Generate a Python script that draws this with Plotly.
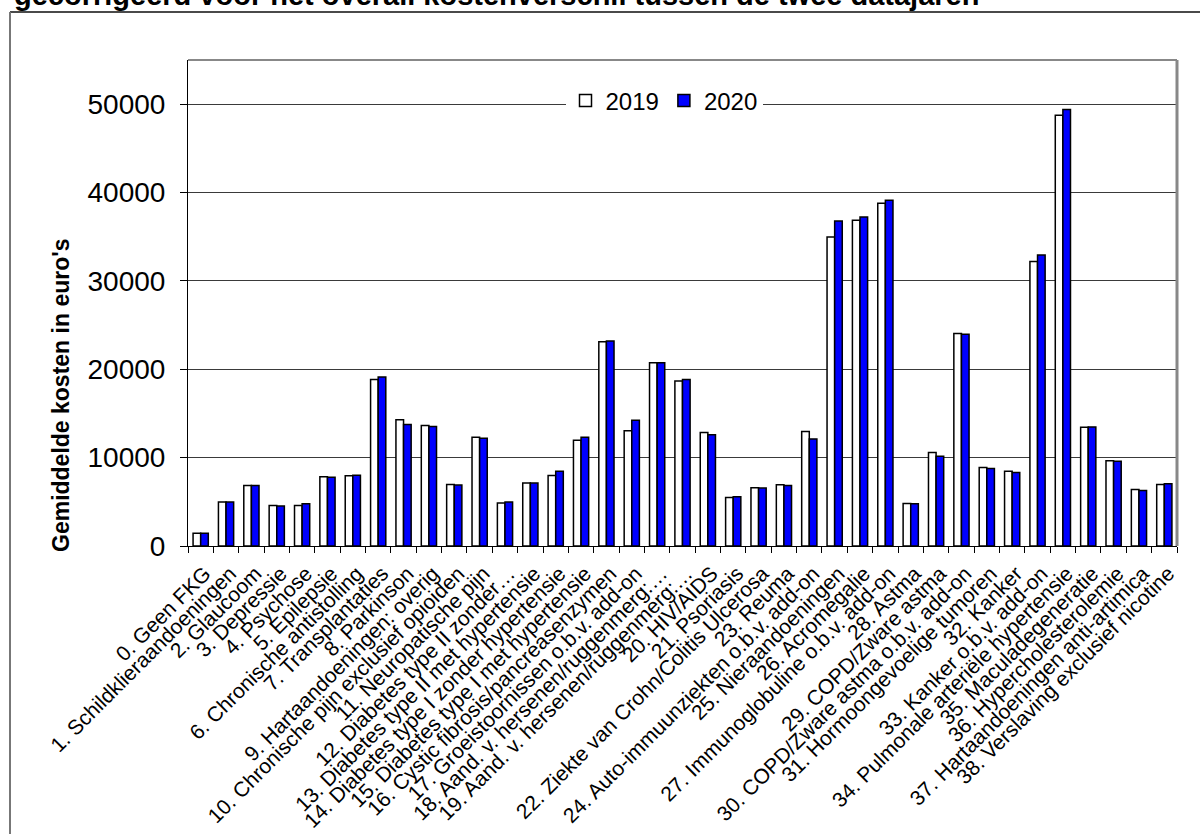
import plotly.graph_objects as go

categories = [
    "0. Geen FKG",
    "1. Schildklieraandoeningen",
    "2. Glaucoom",
    "3. Depressie",
    "4. Psychose",
    "5. Epilepsie",
    "6. Chronische antistolling",
    "7. Transplantaties",
    "8. Parkinson",
    "9. Hartaandoeningen: overig",
    "10. Chronische pijn exclusief opioiden",
    "11. Neuropatische pijn",
    "12. Diabetes type II zonder…",
    "13. Diabetes type II met hypertensie",
    "14. Diabetes type I zonder hypertensie",
    "15. Diabetes type I met hypertensie",
    "16. Cystic fibrosis/pancreasenzymen",
    "17. Groeistoornissen o.b.v. add-on",
    "18. Aand. v. hersenen/ruggenmerg:…",
    "19. Aand. v. hersenen/ruggenmerg:…",
    "20. HIV/AIDS",
    "21. Psoriasis",
    "22. Ziekte van Crohn/Colitis Ulcerosa",
    "23. Reuma",
    "24. Auto-immuunziekten o.b.v. add-on",
    "25. Nieraandoeningen",
    "26. Acromegalie",
    "27. Immunoglobuline o.b.v. add-on",
    "28. Astma",
    "29. COPD/Zware astma",
    "30. COPD/Zware astma o.b.v. add-on",
    "31. Hormoongevoelige tumoren",
    "32. Kanker",
    "33. Kanker o.b.v. add-on",
    "34. Pulmonale arteriële hypertensie",
    "35. Maculadegeneratie",
    "36. Hypercholesterolemie",
    "37. Hartaandoeningen anti-artimica",
    "38. Verslaving exclusief nicotine",
]

values_2019 = [1450, 4970, 6850, 4590, 4590, 7830, 7940, 18830, 14300, 13630,
               6960, 12310, 4860, 7120, 7980, 11970, 23120, 13030, 20750, 18670,
               12840, 5500, 6590, 6930, 12950, 34980, 36860, 38780, 4820, 10580,
               24060, 8880, 8470, 32190, 48760, 13440, 9640, 6400, 6960]

values_2020 = [1450, 4970, 6850, 4520, 4780, 7790, 8020, 19130, 13740, 13520,
               6890, 12200, 4970, 7120, 8470, 12310, 23190, 14230, 20750, 18830,
               12580, 5570, 6550, 6850, 12120, 36780, 37240, 39120, 4780, 10170,
               23950, 8770, 8320, 32940, 49400, 13480, 9600, 6290, 7040]

series_names = ["2019", "2020"]
y_ticks = [0, 10000, 20000, 30000, 40000, 50000]

FONT = "Arial, Liberation Sans, sans-serif"

# plot-area geometry in pixels
W, H = 1200, 834
L, R, T, B = 188, 1177, 60, 546


def px_x(p):
    return (p - L) / (R - L)


def px_y(p):
    return (B - p) / (B - T)


fig = go.Figure()
fig.add_trace(go.Bar(
    x=categories, y=values_2019, name=series_names[0],
    marker=dict(color="white", line=dict(color="black", width=1.5)),
))
fig.add_trace(go.Bar(
    x=categories, y=values_2020, name=series_names[1],
    marker=dict(color="#0000FF", line=dict(color="black", width=1.5)),
))

fig.update_layout(
    width=W, height=H,
    margin=dict(l=L, r=W - R, t=T, b=H - B, pad=0),
    paper_bgcolor="white", plot_bgcolor="white",
    barmode="group", bargap=0.4, bargroupgap=0.0,
    font=dict(family=FONT, color="black"),
    showlegend=True,
    legend=dict(
        orientation="h", x=px_x(664), y=px_y(101), xanchor="center", yanchor="middle",
        bgcolor="white", font=dict(size=24, family=FONT, color="black"),
        itemwidth=30, tracegroupgap=0, traceorder="normal",
    ),
)

fig.update_xaxes(
    type="category", tickmode="linear", tick0=0, dtick=1,
    tickson="boundaries", ticks="outside", ticklen=6,
    tickcolor="black", showline=True, linecolor="black", linewidth=1,
    tickangle=-45, tickfont=dict(size=21, family=FONT, color="black"),
    ticklabelstandoff=6, ticklabelshift=4,
    showgrid=False, automargin=False,
)
fig.update_yaxes(
    range=[0, 55000], tickvals=y_ticks, tickformat="d",
    ticks="outside", ticklen=7, tickcolor="black",
    showline=True, linecolor="black", linewidth=1,
    showgrid=True, gridcolor="#3a3a3a", gridwidth=1, zeroline=False,
    tickfont=dict(size=28, family=FONT, color="black"),
    ticklabelstandoff=9, automargin=False,
)

# plot-area top/right border (gray)
fig.add_shape(type="line", xref="paper", yref="paper", x0=0, x1=1, y0=1, y1=1,
              line=dict(color="#888888", width=2))
fig.add_shape(type="line", xref="paper", yref="paper", x0=1, x1=1, y0=0, y1=1,
              line=dict(color="#888888", width=3))

# outer chart frame (top and left edges visible)
fig.add_shape(type="line", xref="paper", yref="paper",
              x0=px_x(10), x1=px_x(1200), y0=px_y(12), y1=px_y(12),
              line=dict(color="#4a4a4a", width=2))
fig.add_shape(type="line", xref="paper", yref="paper",
              x0=px_x(10), x1=px_x(10), y0=px_y(12), y1=px_y(834),
              line=dict(color="#777777", width=2))

# y-axis title
fig.add_annotation(
    text="<b>Gemiddelde kosten in euro's</b>", textangle=-90,
    xref="paper", yref="paper", x=px_x(61), y=px_y(395),
    xanchor="center", yanchor="middle", showarrow=False,
    font=dict(size=23, family=FONT, color="black"),
)

# partially visible chart title at the very top
fig.add_annotation(
    text="<b>gecorrigeerd voor het overall kostenverschil tussen de twee datajaren</b>",
    xref="paper", yref="paper", x=px_x(12), y=px_y(13),
    xanchor="left", yanchor="bottom", showarrow=False,
    font=dict(size=29, family=FONT, color="black"),
)

fig.write_html("out.html")
